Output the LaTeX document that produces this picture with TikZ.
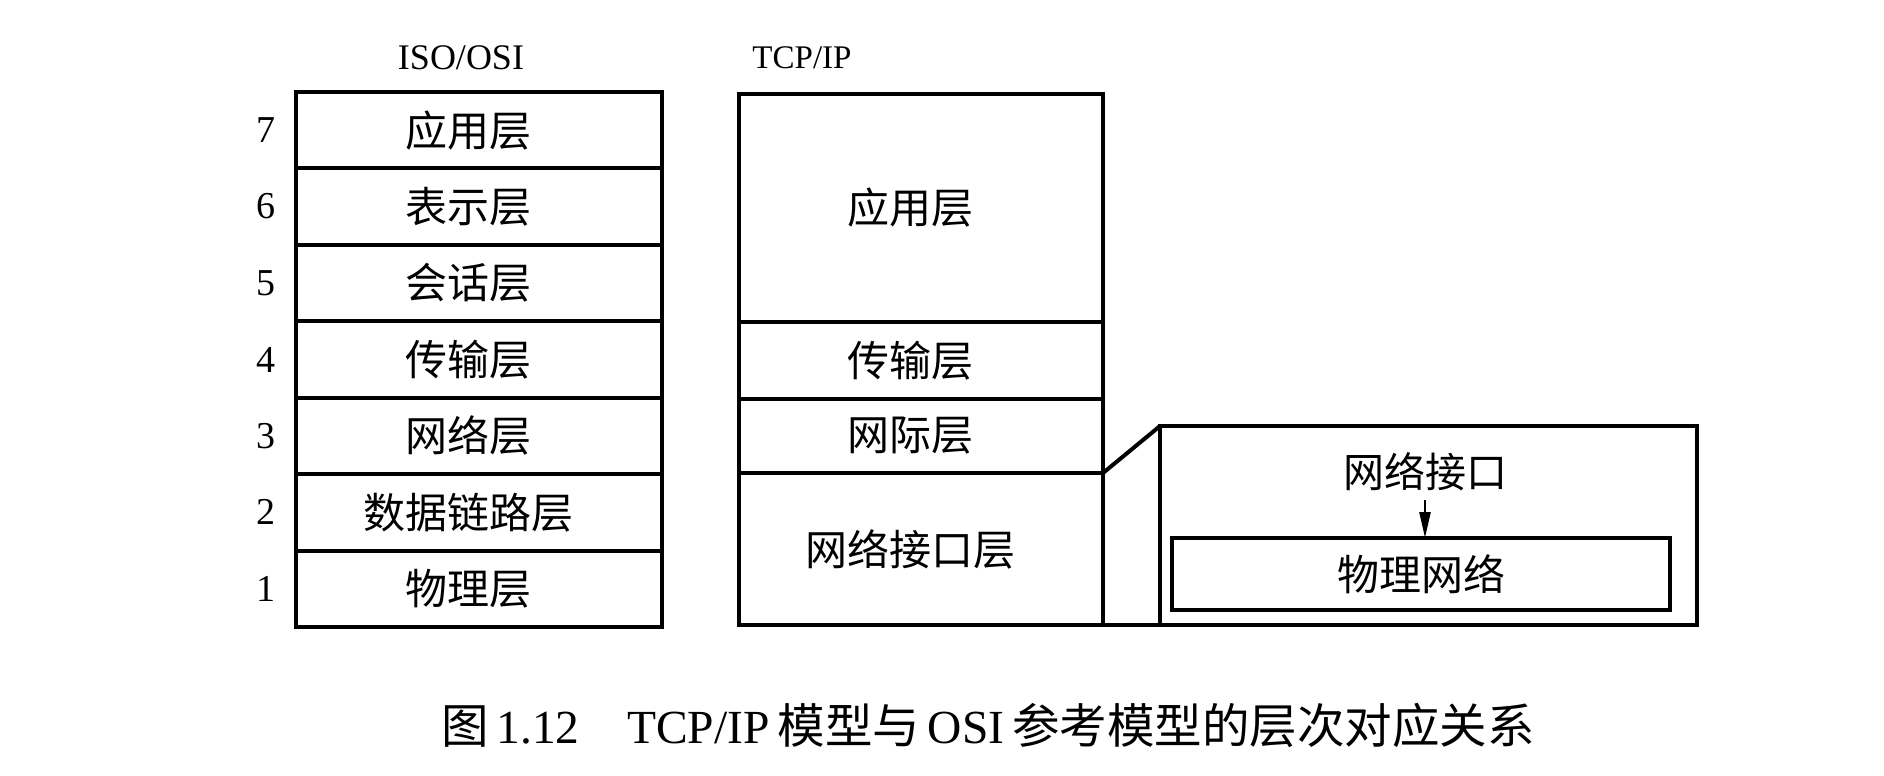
\documentclass[tikz,border=0pt]{standalone}
\usepackage{fontspec}
\setmainfont{Liberation Serif}
\newfontfamily\cjk{Noto Sans CJK SC}
\usetikzlibrary{arrows.meta}
\begin{document}
\begin{tikzpicture}[x=1pt,y=-1pt,
  layer/.style={draw,line width=4pt,inner sep=0pt,outer sep=0pt,
    font=\cjk\fontsize{42}{44}\selectfont},
  leftish/.style={execute at begin node=\hspace*{-22pt}},
  osirow/.style={layer,leftish,minimum width=366pt,minimum height=76.43pt},
  tcprow/.style={layer,leftish,minimum width=364pt},
  num/.style={font=\fontsize{38}{40}\selectfont,inner sep=0pt},
  head/.style={font=\fontsize{36}{40}\selectfont,inner sep=0pt},
  plain/.style={font=\cjk\fontsize{41}{44}\selectfont,inner sep=0pt},
  conn/.style={line width=4pt},
  arr/.style={line width=2.5pt,-{Triangle[length=26pt,width=11pt]}}]
\useasboundingbox (0,0) rectangle (1884,776);
% headings
\node[head] (hosi) at (461,58) {ISO/OSI};
\node[head,font=\fontsize{33}{38}\selectfont] (htcp) at (802,58) {TCP/IP};
% OSI stack
\node[osirow] (o7) at (479,130.2) {应用层};
\node[osirow] (o6) at (479,206.6) {表示层};
\node[osirow] (o5) at (479,283.1) {会话层};
\node[osirow] (o4) at (479,359.5) {传输层};
\node[osirow] (o3) at (479,435.9) {网络层};
\node[osirow] (o2) at (479,512.4) {数据链路层};
\node[osirow] (o1) at (479,588.8) {物理层};
\foreach \i/\y in {7/130.2,6/206.6,5/283.1,4/359.5,3/435.9,2/512.4,1/588.8}
  \node[num] (n\i) at (266,\y) {\i};
% TCP/IP stack
\node[tcprow,minimum height=228pt] (tapp) at (921,208) {应用层};
\node[tcprow,minimum height=77pt] (ttr) at (921,360.5) {传输层};
\node[tcprow,minimum height=74pt] (tin) at (921,436) {网际层};
\node[tcprow,minimum height=152pt] (tni) at (921,549) {网络接口层};
% expanded network interface
\node[layer,minimum width=537pt,minimum height=199pt] (outer) at (1428.5,525.5) {};
\node[layer,minimum width=498pt,minimum height=72pt] (phys) at (1421,574) {物理网络};
\node[plain,minimum height=56pt] (nif) at (1425,472) {网络接口};
\draw[arr] (nif.south) -- (nif.south |- phys.north);
% connectors
\draw[conn] (tni.north east) -- (outer.north west);
\draw[conn] (tni.south east) -- (outer.south west);
% caption
\node[inner sep=0pt,font=\fontsize{47.5}{50}\selectfont] (cap) at (988,725)
  {{\cjk 图}\,1.12\hspace{1em}TCP/IP\,{\cjk 模型与}\,OSI\,{\cjk 参考模型的层次对应关系}};
\end{tikzpicture}
\end{document}
